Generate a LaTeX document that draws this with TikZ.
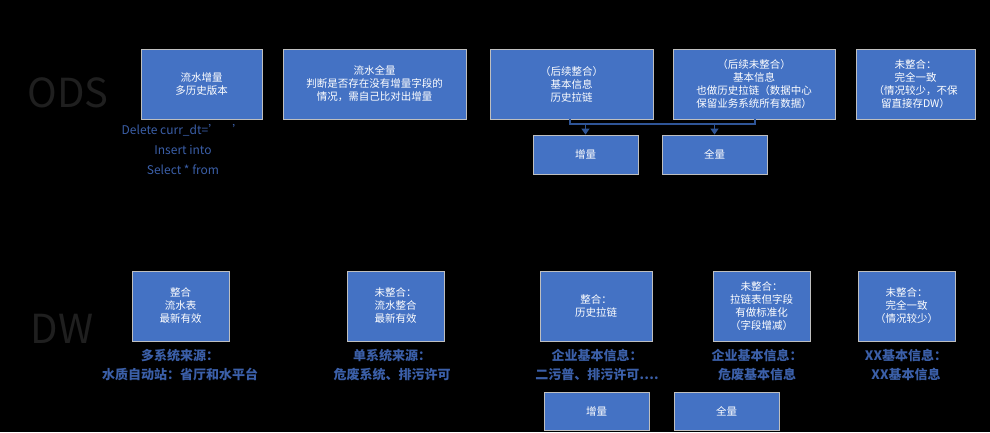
\documentclass[tikz,border=0pt]{standalone}
\usepackage{fontspec}
\setmainfont{Noto Sans CJK SC}
\usetikzlibrary{arrows.meta}
\definecolor{boxblue}{HTML}{4472C4}
\definecolor{txtblue}{HTML}{3B5FA8}
\definecolor{lnblue}{HTML}{2F5597}
\tikzset{
 bx/.style={draw=black!25, line width=0.8pt, fill=boxblue, text=white, font=\fontsize{10.5}{13}\selectfont, align=center, inner sep=0pt},
 lbl/.style={text=txtblue, font=\fontsize{13}{19}\selectfont\bfseries, align=center},
 sql/.style={text=txtblue, font=\fontsize{12}{20}\selectfont, align=center},
 big/.style={text=black!88, font=\fontsize{40}{40}\selectfont},
 conn/.style={draw=lnblue, line width=1.2pt},
 arr/.style={conn, -{Triangle[length=6pt,width=8pt]}}
}
\begin{document}
\begin{tikzpicture}[x=1pt,y=-1pt]
\fill[black] (0,0) rectangle (990,432);
\useasboundingbox (0,0) rectangle (990,432);
\newcommand\bxat[6]{\node[bx, minimum width=#3-#2, minimum height=#5-#4] (#1) at ({(#2+#3)/2},{(#4+#5)/2}) {#6};}
\node[big] (ods) at (68,93) {ODS};
\node[big] (dw) at (62,329) {DW};
\bxat{o1}{141}{262}{49}{119}{流水增量\\多历史版本}
\bxat{o2}{283}{466}{49}{119}{流水全量\\判断是否存在没有增量字段的\\情况，需自己比对出增量}
\bxat{o3}{490}{653}{49}{119}{（后续整合）\\基本信息\\历史拉链}
\bxat{o4}{673}{835}{49}{119}{（后续未整合）\\基本信息\\也做历史拉链（数据中心\\保留业务系统所有数据）}
\bxat{o5}{856}{975}{49}{119}{未整合：\\完全一致\\（情况较少，不保\\留直接存DW）}
\bxat{oi}{533}{638}{135}{174}{增量}
\bxat{oq}{662}{767}{135}{174}{全量}
\node[sql] (sqltxt) at (183,150) {Delete curr\_dt=’\quad’\\Insert into\\Select * from};
\coordinate (c1) at (570,124);
\coordinate (c2) at (755,124);
\draw[conn] (o3.south -| c1) -- (c1) -- (c2) -- (o4.south -| c2);
\draw[arr] (oi.north |- c1) -- (oi.north);
\draw[arr] (oq.north |- c1) -- (oq.north);
\bxat{d1}{132}{229}{271}{341}{整合\\流水表\\最新有效}
\bxat{d2}{347}{444}{271}{341}{未整合：\\流水整合\\最新有效}
\bxat{d3}{540}{652}{271}{341}{整合：\\历史拉链}
\bxat{d4}{713}{810}{271}{341}{未整合：\\拉链表但字段\\有做标准化\\（字段增减）}
\bxat{d5}{858}{955}{271}{341}{未整合：\\完全一致\\（情况较少）}
\bxat{di}{544}{649}{392}{430}{增量}
\bxat{dq}{674}{779}{392}{430}{全量}
\node[lbl] (l1) at (180,365) {多系统来源：\\水质自动站：省厅和水平台};
\node[lbl] (l2) at (392,365) {单系统来源：\\危废系统、排污许可};
\node[lbl] (l3) at (597,365) {企业基本信息：\\二污普、排污许可….};
\node[lbl] (l4) at (757,365) {企业基本信息：\\危废基本信息};
\node[lbl] (l5) at (906,365) {XX基本信息：\\XX基本信息};
\end{tikzpicture}
\end{document}
